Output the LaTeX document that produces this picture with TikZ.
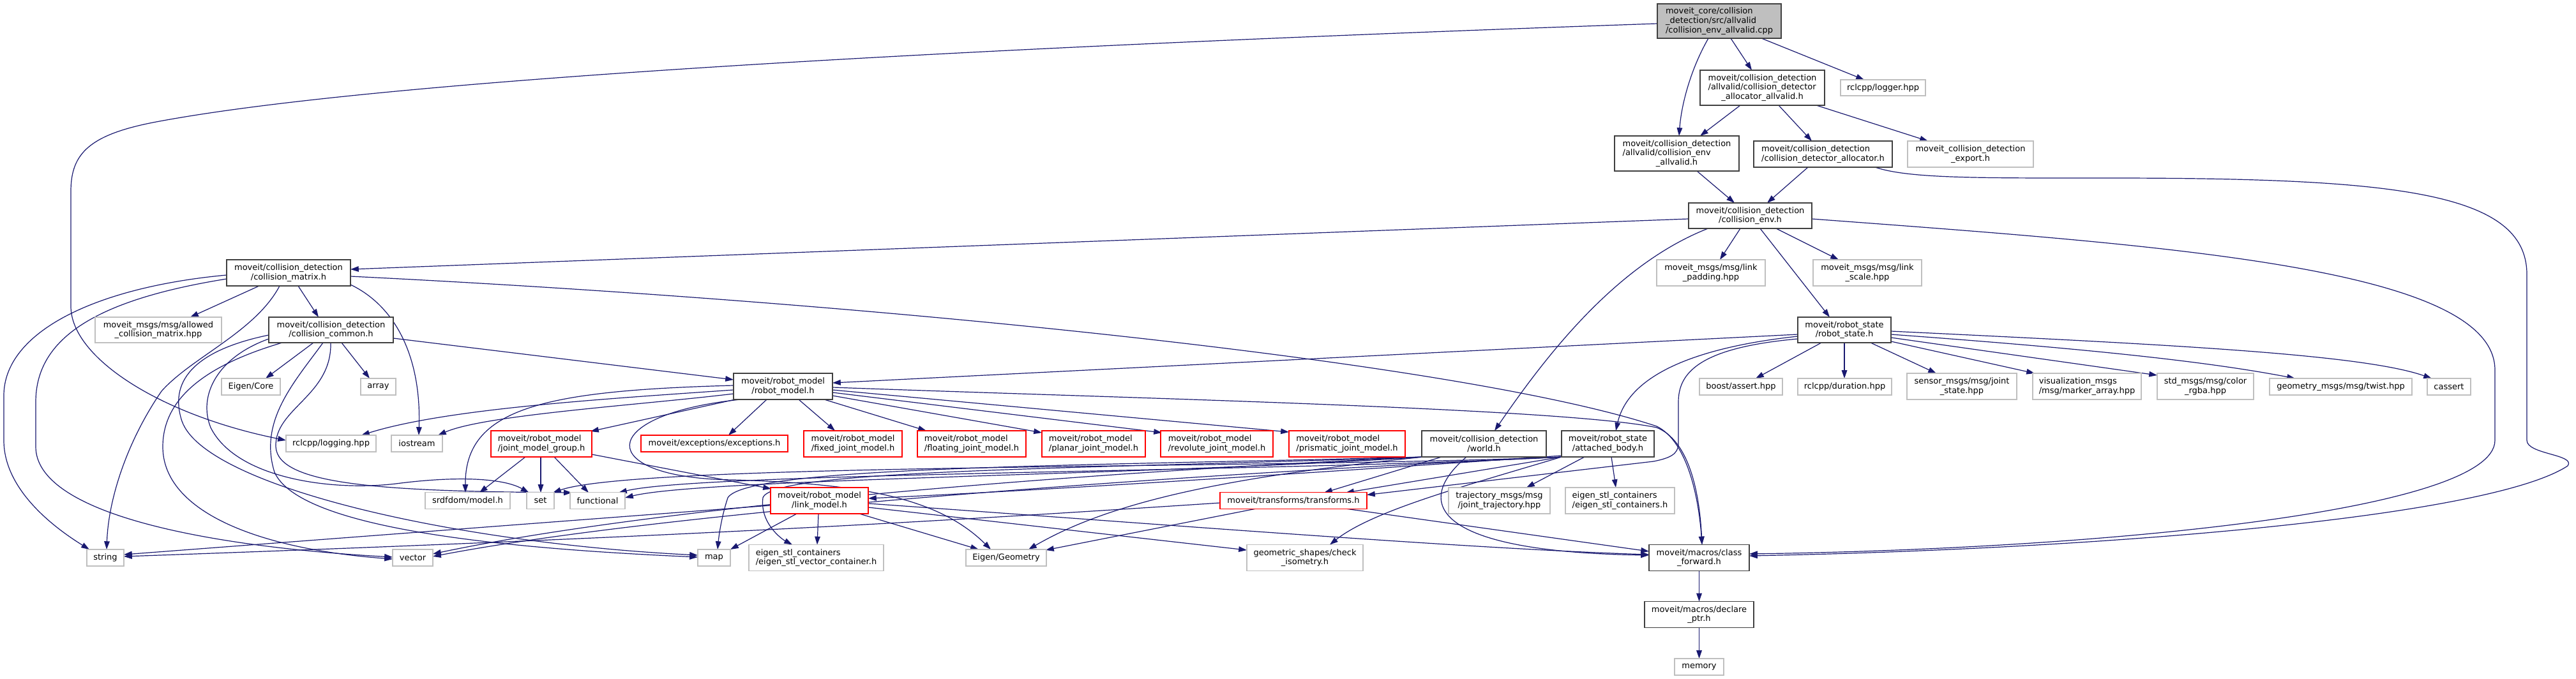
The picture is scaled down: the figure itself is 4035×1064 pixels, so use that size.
\documentclass[tikz,border=0pt]{standalone}
\usepackage{fontspec}
\setmainfont{DejaVu Sans}
\usetikzlibrary{arrows.meta}
\pgfdeclarelayer{bg}
\pgfsetlayers{bg,main}
\definecolor{edgec}{HTML}{191970}
\definecolor{gbord}{HTML}{BFBFBF}
\definecolor{nbord}{HTML}{404040}
\newcommand{\ljust}[2]{\rlap{#1}\phantom{#2}}
\tikzset{
  nb/.style={draw=nbord, fill=white, line width=1.3pt, inner sep=0pt, align=center},
  gb/.style={nb, draw=gbord},
  rb/.style={nb, draw=red},
  sz/.style 2 args={minimum width=#1pt, minimum height=#2pt},
  ed/.style={draw=edgec, line width=1.2pt, -{Triangle[length=12.8pt,width=8.6pt]}},
}
\begin{document}
\begin{tikzpicture}[x=1pt, y=-1pt, font=\fontsize{13}{14.7}\selectfont]
\useasboundingbox (0,0) rectangle (4035,1064);
% nodes
\node[nb, sz={194}{54}, fill=gbord] (top) at (2693,33) {\ljust{moveit\_core/collision}{/collision\_env\_allvalid.cpp}\\\ljust{\_detection/src/allvalid}{/collision\_env\_allvalid.cpp}\\/collision\_env\_allvalid.cpp};
\node[nb, sz={195}{55}] (cdaa) at (2760.5,137.5) {moveit/collision\_detection\\\ljust{/allvalid/collision\_detector}{moveit/collision\_detection}\\\_allocator\_allvalid.h};
\node[gb, sz={133}{25}] (logger) at (2949.5,137.5) {rclcpp/logger.hpp};
\node[nb, sz={195}{55}] (cea) at (2626.5,240.5) {moveit/collision\_detection\\\ljust{/allvalid/collision\_env}{moveit/collision\_detection}\\\_allvalid.h};
\node[nb, sz={217}{41}] (cda) at (2855.5,241.5) {\ljust{moveit/collision\_detection}{/collision\_detector\_allocator.h}\\/collision\_detector\_allocator.h};
\node[gb, sz={197}{41}] (export) at (3086.5,241.5) {moveit\_collision\_detection\\\_export.h};
\node[nb, sz={193}{40}] (cenv) at (2741.5,338) {moveit/collision\_detection\\/collision\_env.h};
\node[nb, sz={194}{41}] (cmat) at (452,427.5) {moveit/collision\_detection\\/collision\_matrix.h};
\node[gb, sz={170}{41}] (pad) at (2680,427.5) {moveit\_msgs/msg/link\\\_padding.hpp};
\node[gb, sz={170}{41}] (scl) at (2925,427.5) {moveit\_msgs/msg/link\\\_scale.hpp};
\node[nb, sz={146}{40}] (rst) at (2889,517) {moveit/robot\_state\\/robot\_state.h};
\node[gb, sz={198}{40}] (acm) at (248,517) {moveit\_msgs/msg/allowed\\\_collision\_matrix.hpp};
\node[nb, sz={195}{40}] (ccom) at (518.5,517) {moveit/collision\_detection\\/collision\_common.h};
\node[gb, sz={92}{26}] (ecore) at (393,606) {Eigen/Core};
\node[gb, sz={55}{26}] (arr) at (592.5,606) {array};
\node[nb, sz={155}{41}] (rmod) at (1226.5,605.5) {moveit/robot\_model\\/robot\_model.h};
\node[gb, sz={130}{26}] (bassert) at (2727,606) {boost/assert.hpp};
\node[gb, sz={147}{26}] (dur) at (2889.5,606) {rclcpp/duration.hpp};
\node[gb, sz={172}{41}] (jstate) at (3073,605.5) {sensor\_msgs/msg/joint\\\_state.hpp};
\node[gb, sz={170}{41}] (marker) at (3269,605.5) {\ljust{visualization\_msgs}{/msg/marker\_array.hpp}\\/msg/marker\_array.hpp};
\node[gb, sz={151}{41}] (crgba) at (3454.5,605.5) {std\_msgs/msg/color\\\_rgba.hpp};
\node[gb, sz={223}{26}] (twist) at (3666.5,606) {geometry\_msgs/msg/twist.hpp};
\node[gb, sz={68}{26}] (cass) at (3836,606) {cassert};
\node[gb, sz={141}{26}] (logging) at (518.5,695) {rclcpp/logging.hpp};
\node[gb, sz={80}{26}] (iostr) at (653,695) {iostream};
\node[rb, sz={158}{41}] (jmg) at (848,695.5) {\ljust{moveit/robot\_model}{/joint\_model\_group.h}\\/joint\_model\_group.h};
\node[rb, sz={230}{26}] (exc) at (1119,695) {moveit/exceptions/exceptions.h};
\node[rb, sz={154}{41}] (fixed) at (1336,695.5) {moveit/robot\_model\\/fixed\_joint\_model.h};
\node[rb, sz={170}{41}] (float) at (1522,695.5) {\ljust{moveit/robot\_model}{/floating\_joint\_model.h}\\/floating\_joint\_model.h};
\node[rb, sz={162}{41}] (planar) at (1713,695.5) {\ljust{moveit/robot\_model}{/planar\_joint\_model.h}\\/planar\_joint\_model.h};
\node[rb, sz={176}{41}] (revol) at (1906,695.5) {\ljust{moveit/robot\_model}{/revolute\_joint\_model.h}\\/revolute\_joint\_model.h};
\node[rb, sz={182}{41}] (prism) at (2110,695.5) {\ljust{moveit/robot\_model}{/prismatic\_joint\_model.h}\\/prismatic\_joint\_model.h};
\node[nb, sz={195}{41}] (world) at (2324.5,695.5) {moveit/collision\_detection\\/world.h};
\node[nb, sz={145}{41}] (att) at (2518.5,695.5) {moveit/robot\_state\\/attached\_body.h};
\node[gb, sz={133}{26}] (srdf) at (732.5,784.5) {srdfdom/model.h};
\node[gb, sz={43}{26}] (sset) at (846.5,784.5) {set};
\node[gb, sz={86}{26}] (func) at (936,784.5) {functional};
\node[rb, sz={153}{41}] (link) at (1283.5,784.5) {moveit/robot\_model\\/link\_model.h};
\node[rb, sz={230}{26}] (trf) at (2026,784.5) {moveit/transforms/transforms.h};
\node[gb, sz={159}{41}] (traj) at (2348.5,784.5) {trajectory\_msgs/msg\\/joint\_trajectory.hpp};
\node[gb, sz={171}{41}] (estl) at (2537.5,784.5) {\ljust{eigen\_stl\_containers}{/eigen\_stl\_containers.h}\\/eigen\_stl\_containers.h};
\node[gb, sz={58}{26}] (str) at (165,874) {string};
\node[gb, sz={63}{26}] (vec) at (646.5,874) {vector};
\node[gb, sz={51}{26}] (mmap) at (1118.5,874) {map};
\node[gb, sz={211}{41}] (evec) at (1278.5,874) {\ljust{eigen\_stl\_containers}{/eigen\_stl\_vector\_container.h}\\/eigen\_stl\_vector\_container.h};
\node[gb, sz={126}{26}] (egeo) at (1576,874) {Eigen/Geometry};
\node[gb, sz={182}{41}] (iso) at (2044,874) {geometric\_shapes/check\\\_isometry.h};
\node[nb, sz={157}{41}] (cfwd) at (2661.5,874) {moveit/macros/class\\\_forward.h};
\node[nb, sz={171}{41}] (decl) at (2661.5,963) {moveit/macros/declare\\\_ptr.h};
\node[gb, sz={77}{26}] (mem) at (2661.5,1045) {memory};
% edges
\begin{pgfonlayer}{bg}
\fill[white] (0,0) rectangle (4035,1064);
\draw[ed] ([shift={(-17,27)}]top.center) .. controls (2650,105) and (2634,160) .. ([shift={(3.5,-27.5)}]cea.center);
\draw[ed] ([shift={(18,27)}]top.center) -- ([shift={(-16.5,-27.5)}]cdaa.center);
\draw[ed] ([shift={(66,27)}]top.center) -- ([shift={(-29.5,-12.5)}]logger.center);
\draw[ed] ([shift={(-97,4)}]top.center) .. controls (1500,75) and (600,125) .. (250,190) .. controls (140,210) and (111,240) .. (111,300) -- (111,480) .. controls (111,560) and (250,650) .. ([shift={(-70.5,-5)}]logging.center);
\draw[ed] ([shift={(-34.5,27.5)}]cdaa.center) -- ([shift={(36.5,-27.5)}]cea.center);
\draw[ed] ([shift={(25.5,27.5)}]cdaa.center) -- ([shift={(-17.5,-20.5)}]cda.center);
\draw[ed] ([shift={(84.5,27.5)}]cdaa.center) -- ([shift={(-66.5,-20.5)}]export.center);
\draw[ed] ([shift={(31.5,27.5)}]cea.center) -- ([shift={(-24.5,-20)}]cenv.center);
\draw[ed] ([shift={(-23.5,20.5)}]cda.center) -- ([shift={(26.5,-20)}]cenv.center);
\draw[ed] ([shift={(81.5,20.5)}]cda.center) .. controls (2990,280) and (3100,279) .. (3300,279) .. controls (3750,279) and (3958,300) .. (3958,430) -- (3958,690) .. controls (3958,712) and (4035,712) .. (4022,730) .. controls (3900,810) and (3300,860) .. ([shift={(78.5,-3)}]cfwd.center);
\draw[ed] ([shift={(-97,5)}]cenv.center) -- ([shift={(97,-5.5)}]cmat.center);
\draw[ed] ([shift={(-15.5,20)}]cenv.center) -- ([shift={(14,-20.5)}]pad.center);
\draw[ed] ([shift={(40.5,20)}]cenv.center) -- ([shift={(-45,-20.5)}]scl.center);
\draw[ed] ([shift={(15.5,20)}]cenv.center) -- ([shift={(-23,-20)}]rst.center);
\draw[ed] ([shift={(-66,20)}]cenv.center) .. controls (2530,415) and (2420,560) .. ([shift={(16.5,-20.5)}]world.center);
\draw[ed] ([shift={(96.5,5)}]cenv.center) .. controls (3400,385) and (3908,420) .. (3908,580) -- (3908,690) .. controls (3908,800) and (3300,860) .. ([shift={(78.5,-6)}]cfwd.center);
\draw[ed] ([shift={(-46,20.5)}]cmat.center) -- ([shift={(50,-20)}]acm.center);
\draw[ed] ([shift={(15,20.5)}]cmat.center) -- ([shift={(-19.5,-20)}]ccom.center);
\draw[ed] ([shift={(-97,3.5)}]cmat.center) .. controls (150,450) and (6,520) .. (6,620) -- (6,690) .. controls (6,770) and (90,830) .. ([shift={(-25,-13)}]str.center);
\draw[ed] ([shift={(-97,9.5)}]cmat.center) .. controls (150,470) and (56,530) .. (56,630) -- (56,700) .. controls (56,800) and (300,855) .. ([shift={(-31.5,-1)}]vec.center);
\draw[ed] ([shift={(-14,20.5)}]cmat.center) .. controls (400,520) and (300,560) .. (253,613) .. controls (200,690) and (170,780) .. ([shift={(2,-13)}]str.center);
\draw[ed] ([shift={(97,18.5)}]cmat.center) .. controls (620,480) and (660,560) .. ([shift={(3,-13)}]iostr.center);
\draw[ed] ([shift={(97,5.5)}]cmat.center) .. controls (1400,475) and (2300,570) .. (2595,668) .. controls (2640,690) and (2660,770) .. ([shift={(4.5,-20.5)}]cfwd.center);
\draw[ed] ([shift={(-27.5,20)}]ccom.center) -- ([shift={(23,-13)}]ecore.center);
\draw[ed] ([shift={(16.5,20)}]ccom.center) -- ([shift={(-13.5,-13)}]arr.center);
\draw[ed] ([shift={(97.5,13)}]ccom.center) -- ([shift={(-77.5,-10.5)}]rmod.center);
\draw[ed] ([shift={(-97.5,8)}]ccom.center) .. controls (300,550) and (265,600) .. (285,660) .. controls (320,760) and (700,850) .. ([shift={(-25.5,-4)}]mmap.center);
\draw[ed] ([shift={(-97.5,14)}]ccom.center) .. controls (340,560) and (310,620) .. (330,670) .. controls (370,750) and (520,770) .. (620,758) .. controls (720,745) and (790,750) .. ([shift={(-18,-12.5)}]sset.center);
\draw[ed] ([shift={(-76.5,20)}]ccom.center) .. controls (330,570) and (255,620) .. (255,700) .. controls (255,800) and (400,860) .. ([shift={(-31.5,2)}]vec.center);
\draw[ed] ([shift={(-12.5,20)}]ccom.center) .. controls (460,600) and (405,660) .. (430,740) .. controls (470,830) and (800,860) .. ([shift={(-25.5,-1)}]mmap.center);
\draw[ed] ([shift={(-0.5,20)}]ccom.center) .. controls (520,620) and (430,640) .. (432,700) .. controls (435,760) and (600,770) .. ([shift={(-40,-12.5)}]func.center);
\draw[ed] ([shift={(-77.5,5.5)}]rmod.center) .. controls (950,625) and (700,640) .. ([shift={(47.5,-13)}]logging.center);
\draw[ed] ([shift={(-77.5,11.5)}]rmod.center) .. controls (1000,635) and (760,650) .. ([shift={(33,-13)}]iostr.center);
\draw[ed] ([shift={(-77.5,-1.5)}]rmod.center) .. controls (850,612) and (728,640) .. ([shift={(-3.5,-12.5)}]srdf.center);
\draw[ed] ([shift={(-75,20.5)}]rmod.center) -- ([shift={(77,-19.5)}]jmg.center);
\draw[ed] ([shift={(-25.5,20.5)}]rmod.center) -- ([shift={(22,-13)}]exc.center);
\draw[ed] ([shift={(24.5,20.5)}]rmod.center) -- ([shift={(-28,-20.5)}]fixed.center);
\draw[ed] ([shift={(64.5,20.5)}]rmod.center) -- ([shift={(-71,-20.5)}]float.center);
\draw[ed] ([shift={(77.5,14.5)}]rmod.center) -- ([shift={(-81,-17.5)}]planar.center);
\draw[ed] ([shift={(77.5,9.5)}]rmod.center) -- ([shift={(-86,-17.5)}]revol.center);
\draw[ed] ([shift={(77.5,5.5)}]rmod.center) -- ([shift={(-91,-18.5)}]prism.center);
\draw[ed] ([shift={(77.5,1.5)}]rmod.center) .. controls (1800,625) and (2450,640) .. (2595,670) .. controls (2645,690) and (2662,770) .. ([shift={(4.5,-20.5)}]cfwd.center);
\draw[ed] ([shift={(-66.5,20.5)}]rmod.center) .. controls (930,650) and (930,750) .. (1150,752) .. controls (1350,758) and (1470,780) .. ([shift={(-24,-13)}]egeo.center);
\draw[ed] ([shift={(-25,20.5)}]jmg.center) -- ([shift={(18.5,-12.5)}]srdf.center);
\draw[ed] ([shift={(-1,20.5)}]jmg.center) -- ([shift={(0.5,-12.5)}]sset.center);
\draw[ed] ([shift={(20,20.5)}]jmg.center) -- ([shift={(-14,-12.5)}]func.center);
\draw[ed] ([shift={(79,16.5)}]jmg.center) -- ([shift={(-75.5,-18.5)}]link.center);
\draw[ed] ([shift={(-76.5,7.5)}]link.center) -- ([shift={(29,-5)}]str.center);
\draw[ed] ([shift={(-35.5,20.5)}]link.center) -- ([shift={(25.5,-13)}]mmap.center);
\draw[ed] ([shift={(-1.5,20.5)}]link.center) -- ([shift={(1.5,-20.5)}]evec.center);
\draw[ed] ([shift={(62.5,20.5)}]link.center) -- ([shift={(-43,-13)}]egeo.center);
\draw[ed] ([shift={(76.5,10.5)}]link.center) -- ([shift={(-91,-12)}]iso.center);
\draw[ed] ([shift={(76.5,4.5)}]link.center) .. controls (1800,820) and (2300,860) .. ([shift={(-78.5,-5)}]cfwd.center);
\draw[ed] ([shift={(-58,12.5)}]trf.center) -- ([shift={(62,-12)}]egeo.center);
\draw[ed] ([shift={(81,12.5)}]trf.center) -- ([shift={(-78.5,-10)}]cfwd.center);
\draw[ed] ([shift={(-115,3.5)}]trf.center) .. controls (1500,815) and (1100,840) .. ([shift={(29,-2)}]str.center);
\draw[ed] ([shift={(-66.5,20.5)}]world.center) -- ([shift={(48,-12.5)}]trf.center);
\draw[ed] ([shift={(-27.5,20.5)}]world.center) .. controls (2210,790) and (2250,865) .. ([shift={(-78.5,-4)}]cfwd.center);
\draw[ed] ([shift={(-95,20.5)}]world.center) .. controls (1950,745) and (1750,780) .. ([shift={(35,-13)}]egeo.center);
\draw[ed] ([shift={(-95,20.5)}]world.center) .. controls (1700,735) and (1210,735) .. (1195,780) .. controls (1190,820) and (1225,845) .. ([shift={(-37.5,-20.5)}]evec.center);
\draw[ed] ([shift={(-95,20.5)}]world.center) .. controls (1700,730) and (1170,730) .. (1140,780) .. controls (1130,810) and (1126,840) .. ([shift={(5.5,-13)}]mmap.center);
\draw[ed] ([shift={(-95,20.5)}]world.center) .. controls (1600,745) and (1000,800) .. ([shift={(31.5,-6)}]vec.center);
\draw[ed] ([shift={(-95,20.5)}]world.center) .. controls (1800,745) and (1100,750) .. ([shift={(43,-4.5)}]func.center);
\draw[ed] ([shift={(-72.5,18.5)}]att.center) .. controls (2000,745) and (1600,770) .. ([shift={(76.5,-3.5)}]link.center);
\draw[ed] ([shift={(-72.5,20.5)}]att.center) -- ([shift={(82,-12.5)}]trf.center);
\draw[ed] ([shift={(-36.5,20.5)}]att.center) -- ([shift={(42.5,-20.5)}]traj.center);
\draw[ed] ([shift={(5.5,20.5)}]att.center) -- ([shift={(-6.5,-20.5)}]estl.center);
\draw[ed] ([shift={(-72.5,20.5)}]att.center) .. controls (2300,760) and (2150,800) .. ([shift={(39,-20.5)}]iso.center);
\draw[ed] ([shift={(-70,20.5)}]att.center) .. controls (2000,735) and (1000,725) .. ([shift={(19.5,-12.5)}]sset.center);
\draw[ed] ([shift={(-70,20.5)}]att.center) .. controls (2000,740) and (1100,740) .. ([shift={(33,-12.5)}]func.center);
\draw[ed] ([shift={(-70,20.5)}]att.center) .. controls (1700,750) and (1000,810) .. ([shift={(31.5,-2)}]vec.center);
\draw[ed] ([shift={(-73,7)}]rst.center) -- ([shift={(77.5,-5.5)}]rmod.center);
\draw[ed] ([shift={(-73,10)}]rst.center) .. controls (2650,545) and (2550,590) .. ([shift={(12.5,-20.5)}]att.center);
\draw[ed] ([shift={(-73,14)}]rst.center) .. controls (2660,545) and (2629,585) .. (2629,630) -- (2629,695) .. controls (2629,712) and (2615,718) .. (2590,723) -- ([shift={(115,-9)}]trf.center);
\draw[ed] ([shift={(-36,20)}]rst.center) -- ([shift={(23,-13)}]bassert.center);
\draw[ed] ([shift={(0,20)}]rst.center) -- ([shift={(-0.5,-13)}]dur.center);
\draw[ed] ([shift={(41,20)}]rst.center) -- ([shift={(-40,-20.5)}]jstate.center);
\draw[ed] ([shift={(73,18)}]rst.center) -- ([shift={(-82,-20.5)}]marker.center);
\draw[ed] ([shift={(73,12)}]rst.center) -- ([shift={(-75.5,-17.5)}]crgba.center);
\draw[ed] ([shift={(73,7)}]rst.center) .. controls (3250,545) and (3450,565) .. ([shift={(-71.5,-13)}]twist.center);
\draw[ed] ([shift={(73,2)}]rst.center) .. controls (3400,540) and (3700,555) .. ([shift={(-27,-13)}]cass.center);
\draw[ed] ([shift={(0,20.5)}]cfwd.center) -- ([shift={(0,-20.5)}]decl.center);
\draw[ed] ([shift={(0,20.5)}]decl.center) -- ([shift={(0,-13)}]mem.center);
\end{pgfonlayer}
\end{tikzpicture}
\end{document}
